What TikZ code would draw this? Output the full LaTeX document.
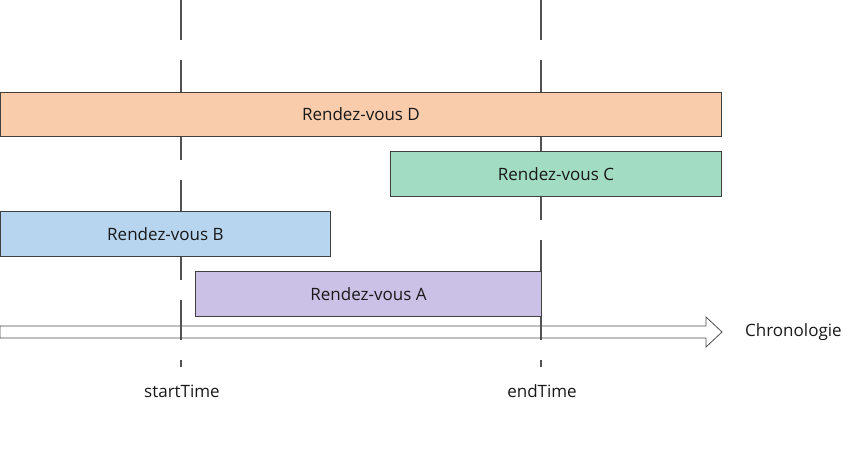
\documentclass[tikz,border=0pt]{standalone}
\usepackage{fontspec}
\setmainfont{Open Sans}
\begin{document}
\begin{tikzpicture}[x=1pt,y=-1pt,
  every node/.style={font=\fontsize{17}{20}\selectfont, text=black!90},
  rdv/.style={draw=black!75, line width=0.9pt, anchor=north west, inner sep=0pt},
  guide/.style={draw=black!68, line width=2.6pt, dash pattern=on 40pt off 20pt},
  timeline/.style={draw=black!70, line width=0.8pt, fill=white},
  lbl/.style={inner sep=0pt}]
\useasboundingbox (0,0) rectangle (866,461);
\definecolor{cD}{HTML}{F9CCAC}
\definecolor{cC}{HTML}{A2DDC3}
\definecolor{cB}{HTML}{B7D5EE}
\definecolor{cA}{HTML}{CBC0E6}
% timeline arrow
\draw[timeline] (0,326) -- (706,326) -- (706,317) -- (722,332) -- (706,347) -- (706,338) -- (0,338) -- cycle;
\node[lbl, anchor=west] (chrono) at (745,332) {Chronologie};
% guides
\coordinate (stop) at (181,0);
\coordinate (sbot) at (181,367);
\coordinate (etop) at (541,0);
\coordinate (ebot) at (541,367);
\draw[guide] (stop) -- (sbot);
\draw[guide] (etop) -- (ebot);
\node[lbl] (start) at (182,391) {startTime};
\node[lbl] (end) at (542,391) {endTime};
% appointments
\node[rdv, fill=cD, minimum width=721pt, minimum height=44pt] (D) at (0,92) {Rendez-vous D};
\node[rdv, fill=cC, minimum width=331pt, minimum height=45pt] (C) at (390,151) {Rendez-vous C};
\node[rdv, fill=cB, minimum width=330pt, minimum height=45pt] (B) at (0,211) {Rendez-vous B};
\node[rdv, fill=cA, minimum width=346pt, minimum height=45pt] (A) at (195,271) {Rendez-vous A};
\end{tikzpicture}
\end{document}
